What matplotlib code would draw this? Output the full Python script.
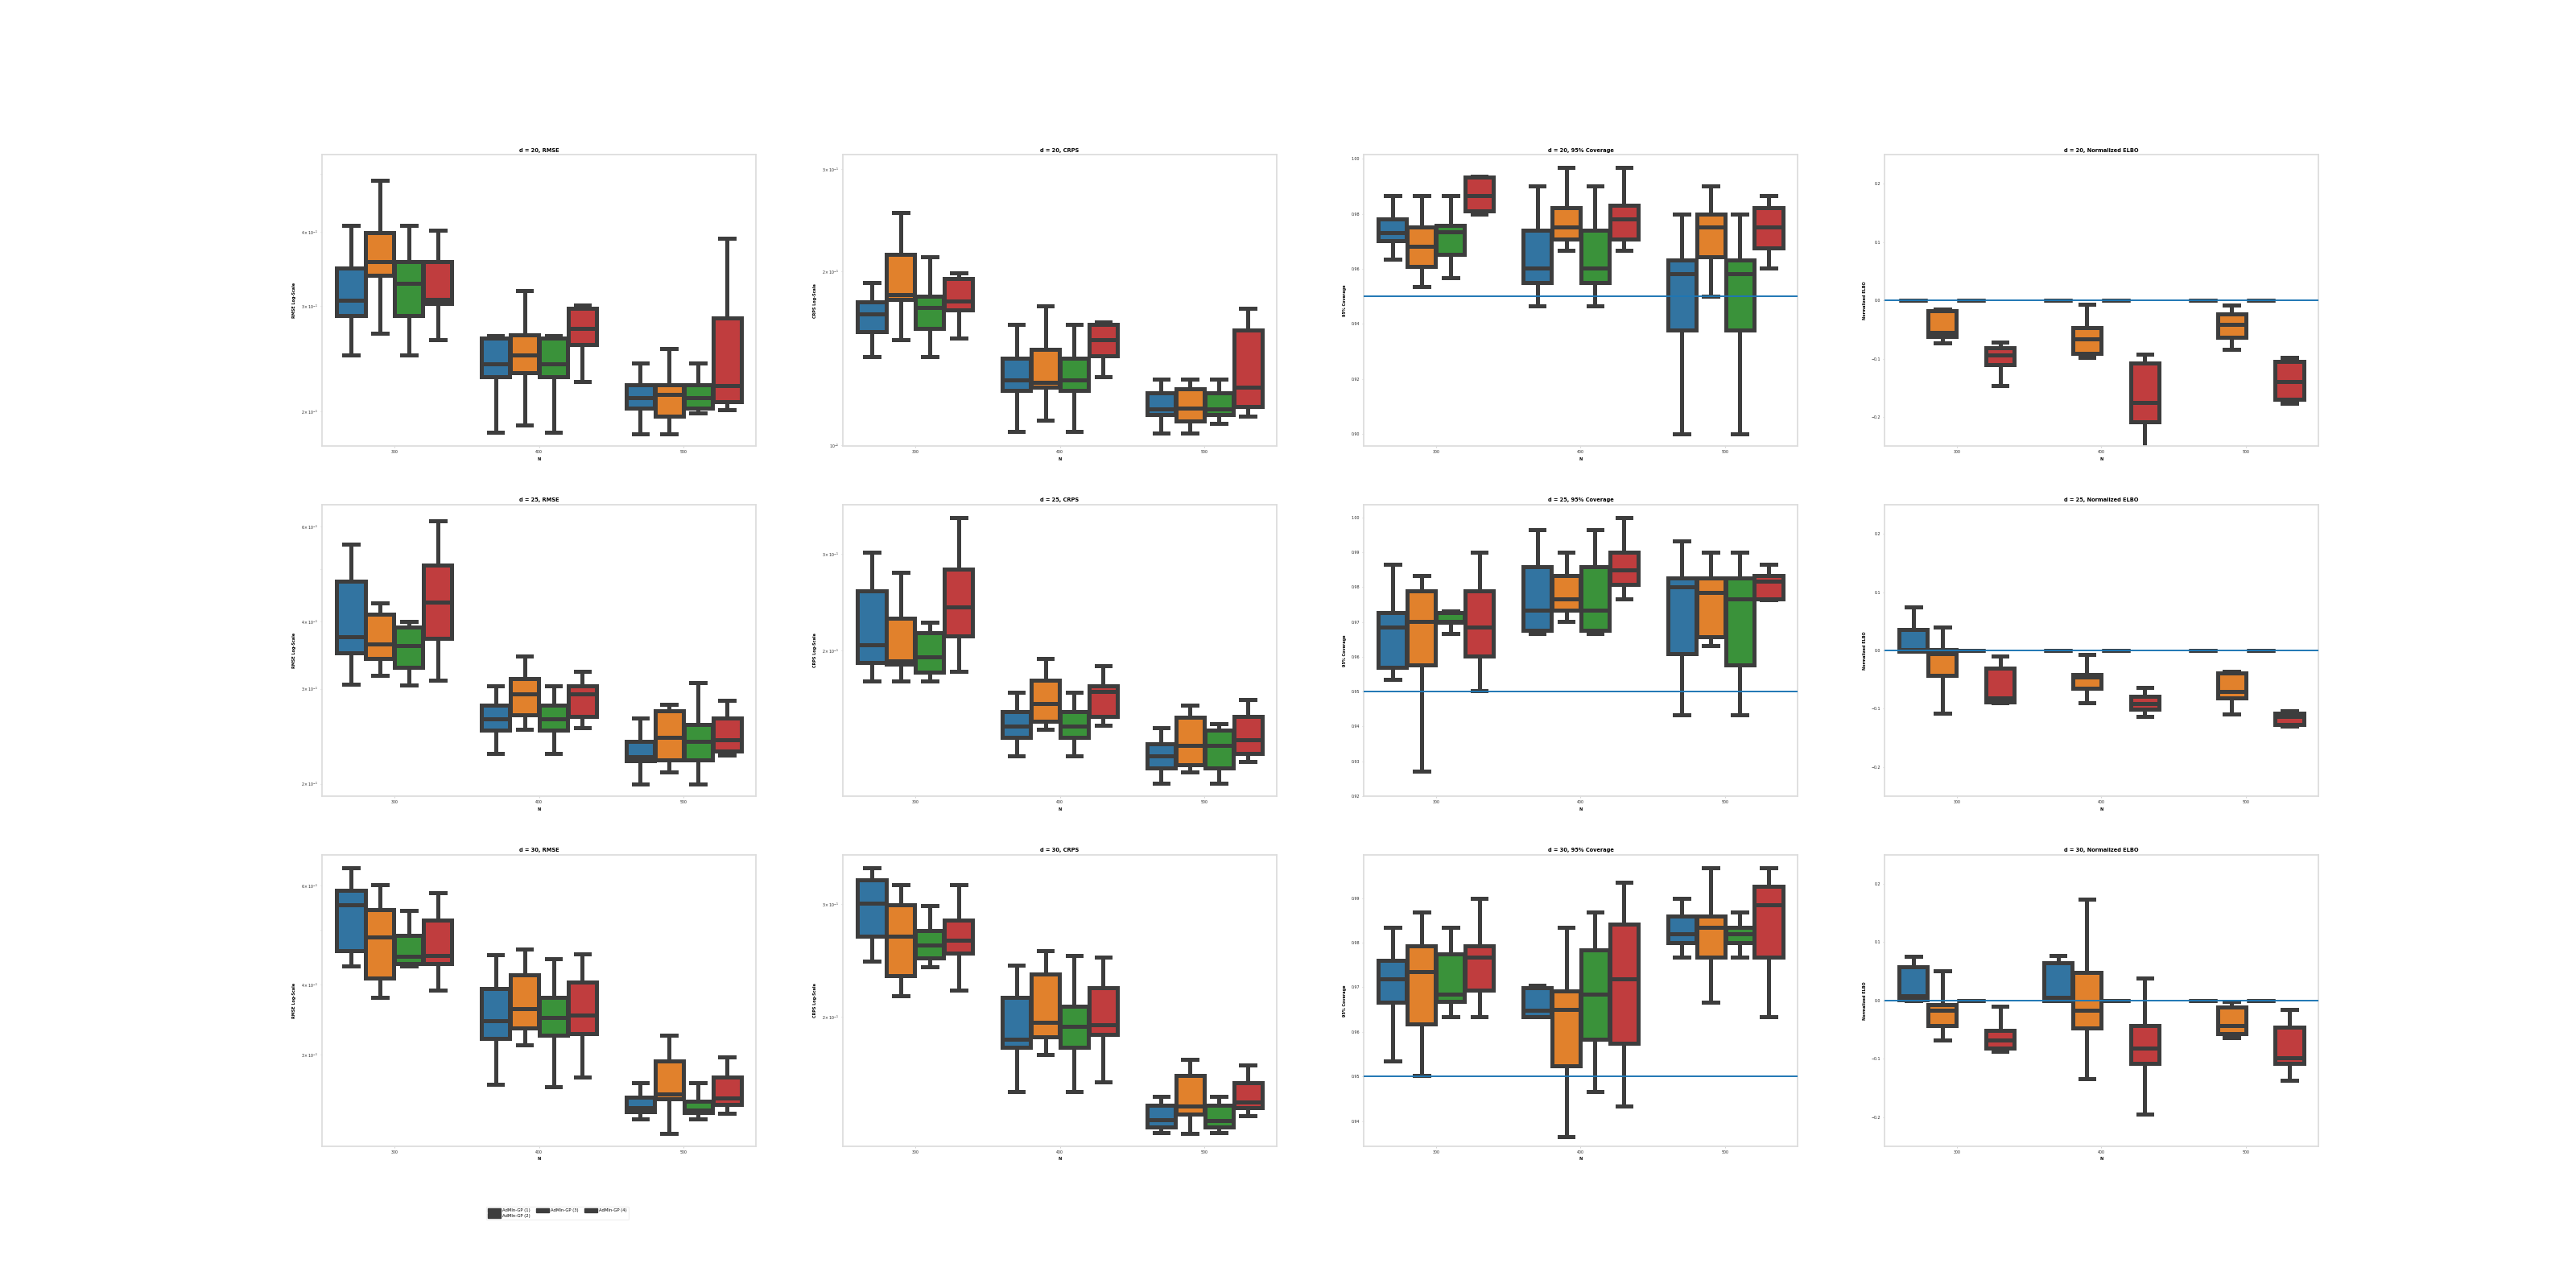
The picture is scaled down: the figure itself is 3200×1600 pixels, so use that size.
import matplotlib
matplotlib.use("Agg")
import matplotlib.pyplot as plt
from matplotlib.patches import Patch

# ---------------- data: [whislo, q1, median, q3, whishi] ----------------
# order: N=300 (m1..m4), N=400 (m1..m4), N=500 (m1..m4)
N_LABELS = ["300", "400", "500"]
METHODS = ["AdMIn-GP (1)", "AdMIn-GP (2)", "AdMIn-GP (3)", "AdMIn-GP (4)"]
DIMS = [20, 25, 30]

RMSE_D20 = [
    [0.2489, 0.2891, 0.3067, 0.3477, 0.4096], [0.2699, 0.3381, 0.3560, 0.3992, 0.4877],
    [0.2489, 0.2891, 0.3274, 0.3560, 0.4096], [0.2633, 0.3035, 0.3077, 0.3569, 0.4020],
    [0.1841, 0.2282, 0.2398, 0.2653, 0.2680], [0.1899, 0.2318, 0.2482, 0.2688, 0.3191],
    [0.1841, 0.2282, 0.2398, 0.2653, 0.2680], [0.2240, 0.2584, 0.2751, 0.2979, 0.3013],
    [0.1835, 0.2025, 0.2106, 0.2218, 0.2411], [0.1835, 0.1965, 0.2133, 0.2218, 0.2544],
    [0.1984, 0.2025, 0.2106, 0.2218, 0.2411], [0.2014, 0.2074, 0.2207, 0.2870, 0.3906],
]
CRPS_D20 = [
    [0.1425, 0.1573, 0.1687, 0.1769, 0.1912], [0.1524, 0.1788, 0.1821, 0.2136, 0.2526],
    [0.1425, 0.1591, 0.1732, 0.1809, 0.2116], [0.1534, 0.1715, 0.1774, 0.1941, 0.1985],
    [0.1058, 0.1246, 0.1299, 0.1414, 0.1619], [0.1107, 0.1262, 0.1284, 0.1465, 0.1741],
    [0.1058, 0.1246, 0.1299, 0.1414, 0.1619], [0.1316, 0.1429, 0.1524, 0.1619, 0.1633],
    [0.1052, 0.1130, 0.1155, 0.1231, 0.1301], [0.1052, 0.1101, 0.1161, 0.1251, 0.1301],
    [0.1093, 0.1130, 0.1155, 0.1231, 0.1301], [0.1125, 0.1167, 0.1262, 0.1582, 0.1726],
]
COV_D20 = [
    [0.9634, 0.9702, 0.9732, 0.9782, 0.9865], [0.9535, 0.9608, 0.9683, 0.9751, 0.9865],
    [0.9568, 0.9652, 0.9735, 0.9758, 0.9865], [0.9798, 0.9809, 0.9865, 0.9932, 0.9935],
    [0.9466, 0.9551, 0.9602, 0.9741, 0.9900], [0.9666, 0.9707, 0.9751, 0.9822, 0.9968],
    [0.9466, 0.9551, 0.9602, 0.9741, 0.9900], [0.9666, 0.9707, 0.9782, 0.9832, 0.9968],
    [0.9002, 0.9378, 0.9583, 0.9632, 0.9800], [0.9502, 0.9643, 0.9751, 0.9800, 0.9900],
    [0.9002, 0.9378, 0.9583, 0.9632, 0.9800], [0.9602, 0.9675, 0.9751, 0.9822, 0.9865],
]
ELBO_D20 = [
    [0.0, 0.0, 0.0, 0.0, 0.0], [-0.0730, -0.0620, -0.0551, -0.0180, -0.0150],
    [0.0, 0.0, 0.0, 0.0, 0.0], [-0.1465, -0.1102, -0.0937, -0.0813, -0.0712],
    [0.0, 0.0, 0.0, 0.0, 0.0], [-0.0978, -0.0909, -0.0661, -0.0473, -0.0069],
    [0.0, 0.0, 0.0, 0.0, 0.0], [-0.2700, -0.2080, -0.1754, -0.1079, -0.0918],
    [0.0, 0.0, 0.0, 0.0, 0.0], [-0.0840, -0.0629, -0.0413, -0.0239, -0.0083],
    [0.0, 0.0, 0.0, 0.0, 0.0], [-0.1768, -0.1699, -0.1396, -0.1047, -0.0978],
]
RMSE_D25 = [
    [0.3060, 0.3496, 0.3746, 0.4748, 0.5569], [0.3178, 0.3413, 0.3628, 0.4131, 0.4325],
    [0.3046, 0.3290, 0.3607, 0.3900, 0.4000], [0.3110, 0.3724, 0.4350, 0.5098, 0.6155],
    [0.2272, 0.2511, 0.2639, 0.2801, 0.3035], [0.2520, 0.2682, 0.2939, 0.3139, 0.3448],
    [0.2272, 0.2511, 0.2639, 0.2801, 0.3035], [0.2537, 0.2666, 0.2932, 0.3042, 0.3237],
    [0.2000, 0.2204, 0.2243, 0.2398, 0.2645], [0.2102, 0.2212, 0.2435, 0.2734, 0.2808],
    [0.2000, 0.2212, 0.2393, 0.2579, 0.3082], [0.2259, 0.2296, 0.2412, 0.2651, 0.2857],
]
CRPS_D25 = [
    [0.1757, 0.1899, 0.2044, 0.2570, 0.3020], [0.1757, 0.1884, 0.1916, 0.2286, 0.2772],
    [0.1757, 0.1823, 0.1944, 0.2150, 0.2249], [0.1829, 0.2121, 0.2396, 0.2809, 0.3494],
    [0.1284, 0.1389, 0.1453, 0.1546, 0.1675], [0.1433, 0.1483, 0.1599, 0.1761, 0.1931],
    [0.1284, 0.1389, 0.1453, 0.1546, 0.1675], [0.1458, 0.1516, 0.1683, 0.1721, 0.1873],
    [0.1142, 0.1220, 0.1284, 0.1350, 0.1443], [0.1199, 0.1236, 0.1340, 0.1507, 0.1587],
    [0.1142, 0.1220, 0.1340, 0.1429, 0.1469], [0.1252, 0.1295, 0.1373, 0.1516, 0.1627],
]
COV_D25 = [
    [0.9534, 0.9570, 0.9685, 0.9726, 0.9865], [0.9270, 0.9576, 0.9701, 0.9790, 0.9832],
    [0.9666, 0.9698, 0.9702, 0.9726, 0.9732], [0.9502, 0.9602, 0.9685, 0.9790, 0.9900],
    [0.9666, 0.9675, 0.9733, 0.9858, 0.9965], [0.9701, 0.9733, 0.9765, 0.9832, 0.9900],
    [0.9666, 0.9675, 0.9733, 0.9858, 0.9965], [0.9766, 0.9808, 0.9849, 0.9900, 1.0000],
    [0.9434, 0.9608, 0.9800, 0.9825, 0.9933], [0.9633, 0.9658, 0.9784, 0.9825, 0.9900],
    [0.9434, 0.9576, 0.9765, 0.9825, 0.9900], [0.9763, 0.9767, 0.9817, 0.9832, 0.9865],
]
ELBO_D25 = [
    [-0.0010, -0.0010, 0.0020, 0.0354, 0.0745], [-0.1080, -0.0423, -0.0055, 0.0018, 0.0400],
    [0.0, 0.0, 0.0, 0.0, 0.0], [-0.0900, -0.0883, -0.0814, -0.0308, -0.0092],
    [0.0, 0.0, 0.0, 0.0, 0.0], [-0.0897, -0.0653, -0.0460, -0.0409, -0.0069],
    [0.0, 0.0, 0.0, 0.0, 0.0], [-0.1136, -0.1011, -0.0906, -0.0791, -0.0634],
    [0.0, 0.0, 0.0, 0.0, 0.0], [-0.1090, -0.0818, -0.0699, -0.0391, -0.0354],
    [0.0, 0.0, 0.0, 0.0, 0.0], [-0.1297, -0.1264, -0.1136, -0.1071, -0.1034],
]
RMSE_D30 = [
    [0.4320, 0.4596, 0.5540, 0.5886, 0.6465], [0.3794, 0.4107, 0.4852, 0.5436, 0.6031],
    [0.4311, 0.4360, 0.4490, 0.4888, 0.5425], [0.3908, 0.4360, 0.4506, 0.5213, 0.5834],
    [0.2653, 0.3201, 0.3446, 0.3930, 0.4521], [0.3121, 0.3346, 0.3622, 0.4158, 0.4617],
    [0.2630, 0.3247, 0.3496, 0.3789, 0.4447], [0.2733, 0.3265, 0.3528, 0.4035, 0.4536],
    [0.2305, 0.2372, 0.2410, 0.2516, 0.2670], [0.2168, 0.2498, 0.2553, 0.2921, 0.3247],
    [0.2305, 0.2364, 0.2390, 0.2474, 0.2670], [0.2358, 0.2443, 0.2511, 0.2733, 0.2970],
]
CRPS_D30 = [
    [0.2441, 0.2675, 0.3015, 0.3274, 0.3426], [0.2157, 0.2322, 0.2675, 0.2994, 0.3223],
    [0.2396, 0.2475, 0.2588, 0.2728, 0.2989], [0.2202, 0.2519, 0.2636, 0.2836, 0.3223],
    [0.1525, 0.1791, 0.1843, 0.2143, 0.2410], [0.1746, 0.1861, 0.1958, 0.2332, 0.2539],
    [0.1525, 0.1791, 0.1929, 0.2079, 0.2495], [0.1582, 0.1874, 0.1945, 0.2221, 0.2478],
    [0.1315, 0.1344, 0.1378, 0.1452, 0.1500], [0.1312, 0.1408, 0.1450, 0.1620, 0.1714],
    [0.1315, 0.1344, 0.1374, 0.1452, 0.1500], [0.1399, 0.1442, 0.1471, 0.1574, 0.1679],
]
COV_D30 = [
    [0.9534, 0.9667, 0.9718, 0.9760, 0.9835], [0.9502, 0.9618, 0.9736, 0.9792, 0.9868],
    [0.9634, 0.9668, 0.9684, 0.9775, 0.9835], [0.9634, 0.9693, 0.9767, 0.9792, 0.9900],
    [0.9634, 0.9634, 0.9649, 0.9699, 0.9704], [0.9366, 0.9524, 0.9651, 0.9692, 0.9835],
    [0.9466, 0.9583, 0.9684, 0.9784, 0.9868], [0.9433, 0.9575, 0.9719, 0.9841, 0.9935],
    [0.9767, 0.9800, 0.9819, 0.9859, 0.9900], [0.9667, 0.9767, 0.9835, 0.9859, 0.9968],
    [0.9767, 0.9800, 0.9820, 0.9835, 0.9868], [0.9634, 0.9767, 0.9885, 0.9926, 0.9968],
]
ELBO_D30 = [
    [0.0, 0.0014, 0.0074, 0.0576, 0.0760], [-0.0677, -0.0424, -0.0170, -0.0065, 0.0512],
    [0.0, 0.0, 0.0, 0.0, 0.0], [-0.0876, -0.0816, -0.0677, -0.0516, -0.0101],
    [0.0, 0.0, 0.0051, 0.0645, 0.0774], [-0.1346, -0.0470, -0.0170, 0.0475, 0.1742],
    [0.0, 0.0, 0.0, 0.0, 0.0], [-0.1945, -0.1083, -0.0816, -0.0424, 0.0382],
    [0.0, 0.0, 0.0, 0.0, 0.0], [-0.0631, -0.0562, -0.0424, -0.0111, -0.0010],
    [0.0, 0.0, 0.0, 0.0, 0.0], [-0.1369, -0.1083, -0.0977, -0.0461, -0.0157],
]

METRICS = ["RMSE", "CRPS", "95% Coverage", "Normalized ELBO"]
YLABELS = ["RMSE Log-Scale", "CRPS Log-Scale", "95% Coverage", "Normalized ELBO"]
PANELS = [
    [RMSE_D20, CRPS_D20, COV_D20, ELBO_D20],
    [RMSE_D25, CRPS_D25, COV_D25, ELBO_D25],
    [RMSE_D30, CRPS_D30, COV_D30, ELBO_D30],
]
YLIMS = [
    [(0.1747, 0.539), (0.0997, 0.318), (0.8956, 1.0015), (-0.25, 0.25)],
    [(0.1895, 0.6595), (0.1083, 0.3689), (0.9199, 1.0037), (-0.25, 0.25)],
    [(0.2059, 0.6814), (0.1253, 0.359), (0.93437, 0.99973), (-0.25, 0.25)],
]
REF_LINES = [None, None, 0.95, 0.0]

# ---------------- style ----------------
COLORS = ["#3274a1", "#e1812c", "#3a923a", "#c03d3e"]
EDGE = "#3d3d3d"
LW = 3.6
SPINE = "#dddddd"
OFFSETS = [-0.3, -0.1, 0.1, 0.3]
BOXW = 0.196

fig, axes = plt.subplots(3, 4, figsize=(32, 16), dpi=100)

for r in range(3):
    for c in range(4):
        ax = axes[r, c]
        data = PANELS[r][c]
        for j, row in enumerate(data):
            gi, mi = divmod(j, 4)
            lo, q1, med, q3, hi = row
            stats = [dict(whislo=lo, q1=q1, med=med, q3=q3, whishi=hi, fliers=[])]
            ax.bxp(stats, positions=[gi + OFFSETS[mi]], widths=[BOXW],
                   patch_artist=True, showfliers=False, manage_ticks=False,
                   boxprops=dict(facecolor=COLORS[mi], edgecolor=EDGE, linewidth=LW),
                   whiskerprops=dict(color=EDGE, linewidth=LW),
                   capprops=dict(color=EDGE, linewidth=LW),
                   medianprops=dict(color=EDGE, linewidth=LW))
        if c < 2:
            ax.set_yscale("log")
        if REF_LINES[c] is not None:
            ax.axhline(REF_LINES[c], color="#1f77b4", linewidth=1.4, zorder=10)
        ax.set_xlim(-0.5, 2.5)
        ax.set_ylim(*YLIMS[r][c])
        ax.set_xticks(range(3))
        ax.set_xticklabels(N_LABELS)
        ax.set_title(f"d = {DIMS[r]}, {METRICS[c]}", fontsize=4.8,
                     fontweight="bold", pad=2.5)
        ax.set_ylabel(YLABELS[c], fontsize=3.5, fontweight="bold", labelpad=4)
        ax.set_xlabel("N", fontsize=3.5, fontweight="bold", labelpad=2.5)
        ax.tick_params(axis="both", which="both", labelsize=3.4, length=1.5,
                       width=0.6, color="#cccccc", labelcolor="#262626", pad=2)
        for sp in ax.spines.values():
            sp.set_color(SPINE)
            sp.set_linewidth(1.3)
        ax.set_facecolor("white")

handles = [Patch(facecolor=EDGE, edgecolor=EDGE) for _ in METHODS]
fig.legend(handles, METHODS, loc="lower left", bbox_to_anchor=(0.1888, 0.0531),
           borderaxespad=0, ncol=3, fontsize=3.8, handlelength=2.9,
           handleheight=1.3, labelspacing=0.15, columnspacing=1.5,
           handletextpad=0.4, frameon=True, edgecolor="#eeeeee")

fig.savefig("out.png", dpi=100, facecolor="white")
